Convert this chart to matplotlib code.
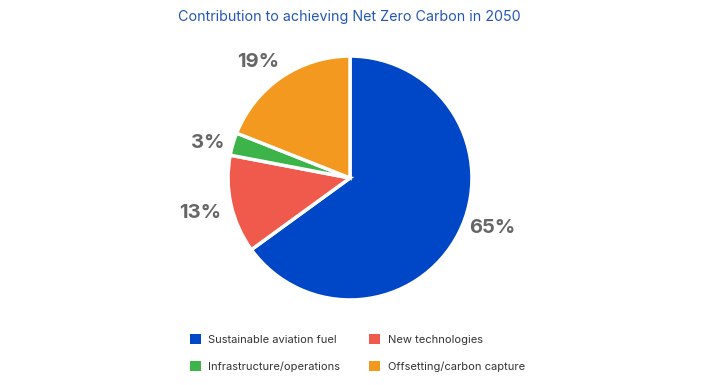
import matplotlib.pyplot as plt

# Chart data
categories = ['Sustainable aviation fuel', 'New technologies',
              'Infrastructure/operations', 'Offsetting/carbon capture']
shares = [65, 13, 3, 19]
pct_labels = ['65%', '13%', '3%', '19%']
colors = ['#0047c8', '#ef5a4c', '#3cb44a', '#f4991f']

plt.rcParams['font.family'] = ['Inter', 'DejaVu Sans']

fig = plt.figure(figsize=(7.27, 3.85), dpi=100)
W, H = 727, 385

# Pie axes: centre (350, 178) px, box of 250 px
ax = fig.add_axes([(350 - 125) / W, (H - 178 - 125) / H, 250 / W, 250 / H])
wedges, texts = ax.pie(shares, colors=colors, labels=pct_labels,
                       startangle=90, counterclock=False, radius=1.0,
                       labeldistance=1.22,
                       wedgeprops=dict(edgecolor='white', linewidth=2.5))

# nudge the outside labels to where the reference puts them
label_pos = [(1.17, -0.41), (-1.23, -0.29), (-1.17, 0.29), (-0.75, 0.95)]
for t, pos in zip(texts, label_pos):
    t.set_position(pos)
    t.set_ha('center')
    t.set_va('center')
    t.set_fontsize(14.5)
    t.set_fontweight('bold')
    t.set_color('#666666')
ax.set_xlim(-1.025, 1.025)
ax.set_ylim(-1.025, 1.025)
ax.set_aspect('equal')
ax.axis('off')

# Title
fig.text(349 / W, 1 - 17 / H, 'Contribution to achieving Net Zero Carbon in 2050',
         ha='center', va='center', fontsize=10.3, color='#2457b5')

# Legend (2 columns)
order = [0, 2, 1, 3]
leg = fig.legend([wedges[i] for i in order], [categories[i] for i in order],
                 ncol=2, loc='center left', bbox_to_anchor=(184 / W, 1 - 353 / H),
                 frameon=False, fontsize=8, handlelength=1.0, handleheight=1.0,
                 handletextpad=0.7, columnspacing=2.6, labelspacing=1.5,
                 borderpad=0)
for h in leg.legend_handles:
    h.set_edgecolor('none')
for t in leg.get_texts():
    t.set_color('#333333')

fig.savefig('out.png', dpi=100)
